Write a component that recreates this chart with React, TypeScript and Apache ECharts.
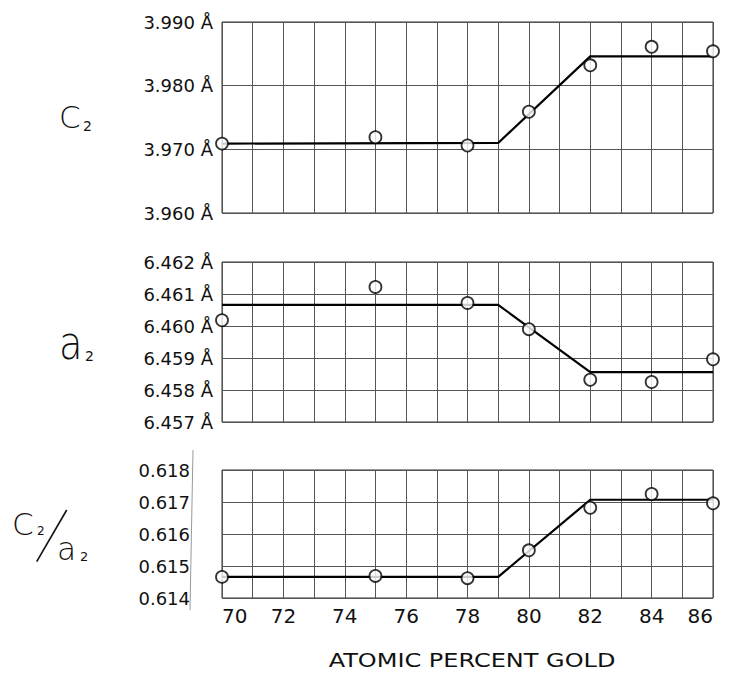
import React, { useEffect, useRef } from "react";
import * as echarts from "echarts";

// ---- data ----
const goldPct = [70, 75, 78, 80, 82, 84, 86];
const fitX = [70, 79, 82, 86];

const c2Values = [3.9709, 3.9719, 3.9706, 3.9759, 3.9832, 3.9861, 3.9854];
const c2Fit = [3.9709, 3.971, 3.9846, 3.9846];
const c2Ticks = [3.96, 3.97, 3.98, 3.99];

const a2Values = [6.46018, 6.46122, 6.46072, 6.4599, 6.45832, 6.45825, 6.45896];
const a2Fit = [6.46066, 6.46066, 6.45856, 6.45856];
const a2Ticks = [6.457, 6.458, 6.459, 6.46, 6.461, 6.462];

const ratioValues = [0.61466, 0.61469, 0.61462, 0.61549, 0.61682, 0.61725, 0.61696];
const ratioFit = [0.61466, 0.61466, 0.61707, 0.61707];
const ratioTicks = [0.614, 0.615, 0.616, 0.617, 0.618];

const xTickLabels = [70, 72, 74, 76, 78, 80, 82, 84, 86];
const xTitle = "ATOMIC PERCENT GOLD";

const FONT = "'DejaVu Sans', 'Liberation Sans', sans-serif";
const INK = "#111";
const GRIDC = "#555";

export default function App() {
  const ref = useRef<HTMLDivElement>(null);

  useEffect(() => {
    if (!ref.current) return;
    const chart = echarts.init(ref.current, undefined, { renderer: "svg" });

    const grids = [
      { left: 222, top: 22, width: 491, height: 191 },
      { left: 222, top: 262, width: 491, height: 160 },
      { left: 222, top: 470, width: 491, height: 128 },
    ];

    const panels = [
      { ticks: c2Ticks, values: c2Values, fit: c2Fit, unit: true, margin: 9 },
      { ticks: a2Ticks, values: a2Values, fit: a2Fit, unit: true, margin: 9 },
      { ticks: ratioTicks, values: ratioValues, fit: ratioFit, unit: false, margin: 32 },
    ];

    const xAxes = panels.map((_, i) => ({
      type: "value",
      gridIndex: i,
      min: xTickLabels[0],
      max: xTickLabels[xTickLabels.length - 1],
      interval: 1,
      axisLine: { show: false },
      axisTick: { show: false },
      splitLine: { show: true, lineStyle: { color: GRIDC, width: 1 } },
      axisLabel: {
        show: i === 2,
        margin: 8,
        fontFamily: FONT,
        fontSize: 20,
        color: INK,
        alignMinLabel: "left",
        alignMaxLabel: "right",
        formatter: (v: number) => (xTickLabels.includes(Math.round(v)) ? String(Math.round(v)) : ""),
      },
    }));

    const yAxes = panels.map((p, i) => {
      const step = Math.round((p.ticks[1] - p.ticks[0]) * 1e6) / 1e6;
      return {
        type: "value",
        gridIndex: i,
        min: p.ticks[0],
        max: p.ticks[p.ticks.length - 1],
        interval: step,
        axisLine: { show: false },
        axisTick: { show: false },
        splitLine: { show: true, lineStyle: { color: GRIDC, width: 1 } },
        axisLabel: {
          margin: p.margin,
          fontFamily: FONT,
          fontSize: 18,
          color: INK,
          formatter: (v: number) => (p.unit ? `${v.toFixed(3)} Å` : v.toFixed(3)),
        },
      };
    });

    const series: any[] = [];
    panels.forEach((p, i) => {
      series.push({
        type: "line",
        xAxisIndex: i,
        yAxisIndex: i,
        data: fitX.map((x, k) => [x, p.fit[k]]),
        showSymbol: false,
        lineStyle: { color: "#000", width: 2.2 },
        z: 2,
        clip: false,
        silent: true,
      });
      series.push({
        type: "scatter",
        xAxisIndex: i,
        yAxisIndex: i,
        data: goldPct.map((x, k) => [x, p.values[k]]),
        symbol: "circle",
        symbolSize: 12,
        itemStyle: { color: "#fff", borderColor: "#000", borderWidth: 1.8 },
        z: 3,
        clip: false,
        silent: true,
      });
    });

    const txt = (
      text: string,
      x: number,
      y: number,
      size: number,
      weight: any = "normal",
      sx = 1,
      sy = 1,
      align = "left"
    ) => ({
      type: "text",
      x,
      y,
      scaleX: sx,
      scaleY: sy,
      originX: 0,
      originY: 0,
      style: {
        text,
        fontFamily: FONT,
        fontSize: size,
        fontWeight: weight,
        fill: INK,
        textAlign: align,
        textVerticalAlign: "middle",
        verticalAlign: "middle",
      },
    });

    const graphic: any[] = [
      // C2
      txt("C", 59, 117, 31, 300),
      txt("2", 83, 126, 14),
      // a2
      txt("a", 59, 343, 32, 300, 1.2, 1.45),
      txt("2", 85, 356, 14),
      // C2 / a2
      txt("C", 12, 524, 31, 300),
      txt("2", 37, 531, 12),
      {
        type: "line",
        shape: { x1: 36.7, y1: 561.7, x2: 66.7, y2: 510 },
        style: { stroke: INK, lineWidth: 1.6 },
      },
      txt("a", 57, 549, 26, 300, 1.2, 1.25),
      txt("2", 80, 556, 13),
      // stray scan line beside bottom labels
      {
        type: "line",
        shape: { x1: 193, y1: 450, x2: 190, y2: 610 },
        style: { stroke: "#999", lineWidth: 1 },
      },
      // x-axis title
      txt(xTitle, 472, 660, 20, "normal", 1.2, 1, "center"),
    ];

    chart.setOption({
      animation: false,
      backgroundColor: "#fff",
      grid: grids.map((g) => ({ ...g, show: true, borderColor: "#333", borderWidth: 1, backgroundColor: "transparent" })),
      xAxis: xAxes,
      yAxis: yAxes,
      series,
      graphic,
    });

    return () => chart.dispose();
  }, []);

  return (
    <div
      ref={ref}
      style={{ position: "fixed", left: 0, top: 0, width: 742, height: 678, background: "#fff" }}
    />
  );
}
